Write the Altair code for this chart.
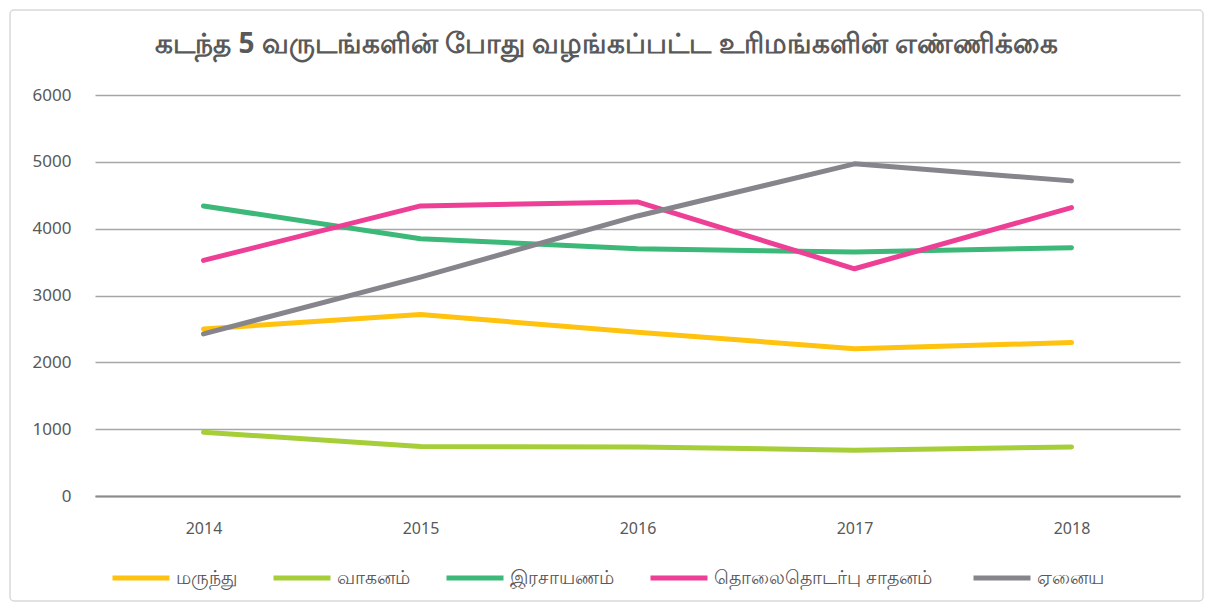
import altair as alt
import pandas as pd

years = ["2014", "2015", "2016", "2017", "2018"]
series_names = ["மருந்து", "வாகனம்", "இரசாயணம்", "தொலைதொடர்பு  சாதனம்", "ஏனைய"]
s_marunthu = [2500, 2715, 2450, 2205, 2295]
s_vaaganam = [955, 740, 735, 685, 735]
s_irasaayanam = [4340, 3850, 3700, 3650, 3715]
s_tholai = [3525, 4340, 4400, 3400, 4315]
s_enaiya = [2425, 3275, 4190, 4970, 4715]
colors = ["#FFC20E", "#A6CE39", "#3CB878", "#EE3F97", "#86858C"]
title_text = "கடந்த 5 வருடங்களின் போது வழங்கப்பட்ட உரிமங்களின் எண்ணிக்கை"

all_series = [s_marunthu, s_vaaganam, s_irasaayanam, s_tholai, s_enaiya]
rows = []
for i, (name, vals) in enumerate(zip(series_names, all_series)):
    for y, v in zip(years, vals):
        rows.append({"year": y, "series": name, "value": v, "order": i})
df = pd.DataFrame(rows)

font = "Noto Sans"
grey = "#595959"

frame = alt.Chart(pd.DataFrame({"a": [0]})).mark_rect(
    filled=False, stroke="#D9D9D9", strokeWidth=1.5, cornerRadius=4
).encode(
    x=alt.value(-85), x2=alt.value(1108), y=alt.value(-85), y2=alt.value(506)
)

lines = alt.Chart(df).mark_line(strokeWidth=5, strokeCap="round", strokeJoin="round").encode(
    x=alt.X("year:O", sort=years, title=None,
            scale=alt.Scale(type="point", padding=0.5),
            axis=alt.Axis(labelAngle=0, domain=True, domainColor="#8C8C8C", domainWidth=2,
                          ticks=False, grid=False,
                          labelFontSize=16, labelColor=grey, labelFont=font,
                          labelPadding=24)),
    y=alt.Y("value:Q", title=None,
            scale=alt.Scale(domain=[0, 6000], nice=False),
            axis=alt.Axis(values=[0, 1000, 2000, 3000, 4000, 5000, 6000], format="d",
                          domain=False, ticks=False, gridColor="#A6A6A6",
                          gridWidth=1.5, labelFontSize=17, labelColor=grey,
                          labelFont=font, labelPadding=24)),
    color=alt.Color("series:N", sort=series_names,
                    scale=alt.Scale(domain=series_names, range=colors),
                    legend=alt.Legend(title=None, orient="none", direction="horizontal",
                                      legendX=15, legendY=452,
                                      symbolType="stroke", symbolStrokeWidth=5,
                                      symbolSize=3249, labelLimit=400,
                                      labelFontSize=19, labelColor=grey, labelFont=font,
                                      columnPadding=26, labelOffset=4)),
    order=alt.Order("order:Q"),
    detail="series:N",
)

chart = alt.layer(frame, lines).properties(
    width=1085, height=401,
    autosize=alt.AutoSizeParams(type="none"),
    padding={"left": 87, "top": 87, "right": 24, "bottom": 107},
    title=alt.TitleParams(title_text, fontSize=28, color=grey, font=font,
                          fontWeight="bold", anchor="middle", offset=-50, dx=-31),
).configure_view(stroke=None)

chart.save("out.html", embed_options={"renderer": "svg", "actions": False})
